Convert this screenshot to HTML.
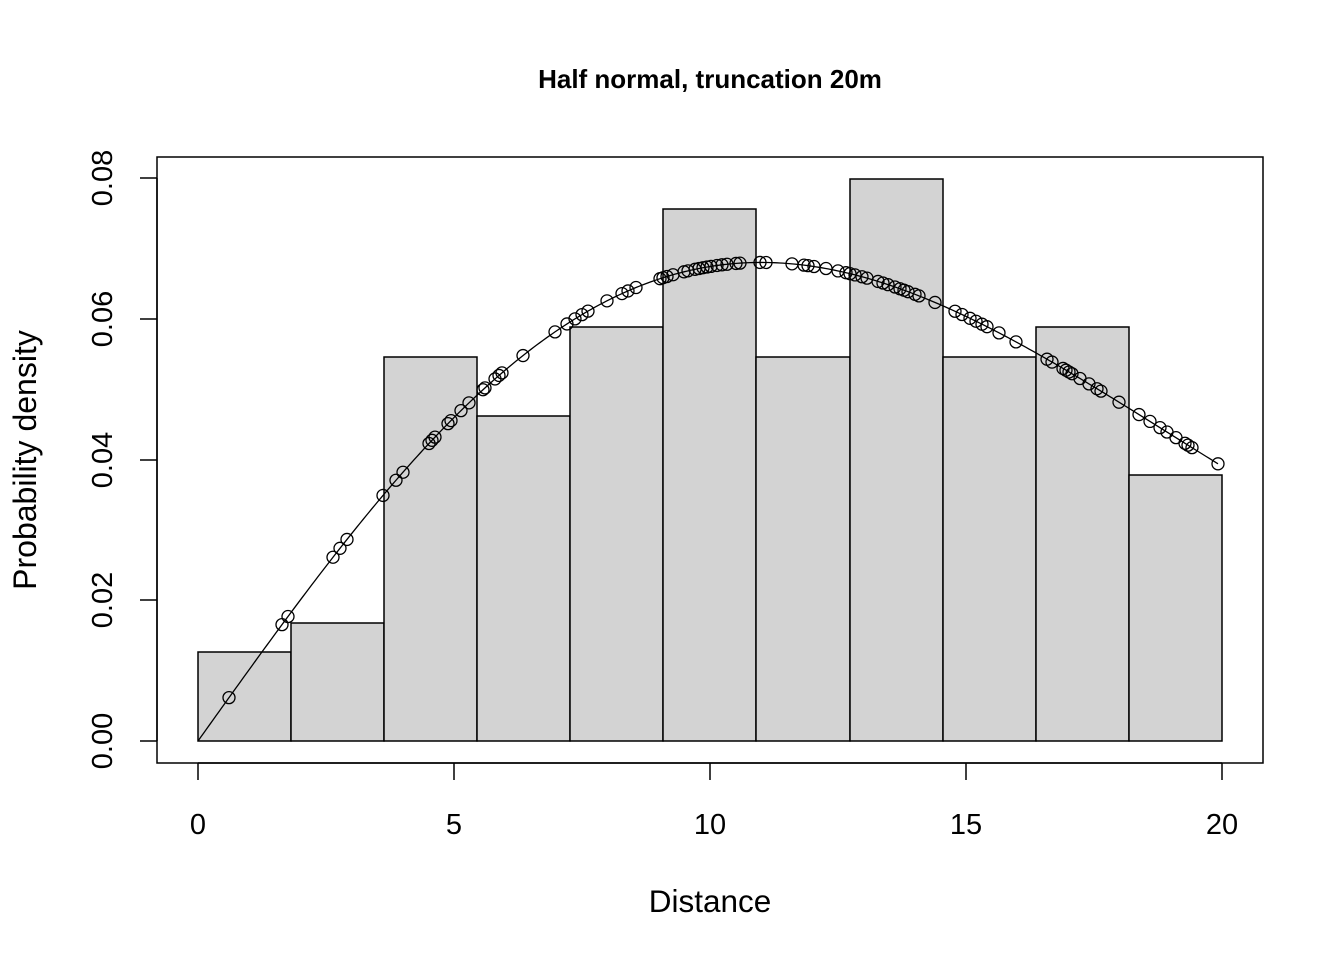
<!DOCTYPE html>
<html><head><meta charset="utf-8"><style>
html,body{margin:0;padding:0;background:#fff;}
svg{display:block;font-family:"Liberation Sans",Arial,sans-serif;}
</style></head><body>
<svg id="s" width="1344" height="960" viewBox="0 0 1344 960" xmlns="http://www.w3.org/2000/svg">
<rect width="1344" height="960" fill="#fff"/>
<text x="710" y="88" text-anchor="middle" font-size="26" font-weight="bold">Half normal, truncation 20m</text>
<rect x="157" y="157" width="1106" height="606" fill="none" stroke="#000" stroke-width="1.5"/>
<g id="bars" fill="#d3d3d3" stroke="#000" stroke-width="1.5"></g>
<g stroke="#000" stroke-width="1.5">
<line x1="198" y1="763" x2="1222" y2="763"/>
<line x1="198" y1="763" x2="198" y2="780"/>
<line x1="454" y1="763" x2="454" y2="780"/>
<line x1="710" y1="763" x2="710" y2="780"/>
<line x1="966" y1="763" x2="966" y2="780"/>
<line x1="1222" y1="763" x2="1222" y2="780"/>
<line x1="157" y1="178" x2="157" y2="741"/>
<line x1="140" y1="741" x2="157" y2="741"/>
<line x1="140" y1="600" x2="157" y2="600"/>
<line x1="140" y1="460" x2="157" y2="460"/>
<line x1="140" y1="319" x2="157" y2="319"/>
<line x1="140" y1="178" x2="157" y2="178"/>
</g>
<g font-size="29" text-anchor="middle">
<text x="198" y="834">0</text><text x="454" y="834">5</text><text x="710" y="834">10</text><text x="966" y="834">15</text><text x="1222" y="834">20</text>
<text transform="translate(112,741) rotate(-90)">0.00</text>
<text transform="translate(112,600) rotate(-90)">0.02</text>
<text transform="translate(112,460) rotate(-90)">0.04</text>
<text transform="translate(112,319) rotate(-90)">0.06</text>
<text transform="translate(112,178) rotate(-90)">0.08</text>
<text x="710" y="912" font-size="31.5">Distance</text>
<text transform="translate(36,460) rotate(-90)" font-size="32">Probability density</text>
</g>
<g id="curve"></g>
</svg>
<script>
var ns="http://www.w3.org/2000/svg",s=document.getElementById("s");
var b=[198,291,384,477,570,663,756,850,943,1036,1129,1222],t=[652,623,357,416,327,209,357,179,357,327,475];
var g=document.getElementById("bars");
for(var i=0;i<11;i++){var r=document.createElementNS(ns,"rect");r.setAttribute("x",b[i]);r.setAttribute("y",t[i]);r.setAttribute("width",b[i+1]-b[i]);r.setAttribute("height",741-t[i]);g.appendChild(r);}
function Y(px){var x=(px-198)/51.2;var f=0.010192*x*Math.exp(-x*x/242);return 741-f*7037.5;}
var d="";for(var p=198;p<=1219;p+=3){d+=(p==198?"M":"L")+p+","+Y(p).toFixed(2);}
var c=document.getElementById("curve");
var pa=document.createElementNS(ns,"path");pa.setAttribute("d",d);pa.setAttribute("fill","none");pa.setAttribute("stroke","#000");pa.setAttribute("stroke-width","1.3");c.appendChild(pa);
var xs=[229,282,288,333,340,347,383,396,403,429,432,435,448,451,461,469,483,485,495,499,502,523,555,567,575,582,588,607,622,628,636,660,663,667,673,684,688,695,699,703,707,711,717,722,727,736,740,760,766,792,804,808,814,826,838,846,850,855,862,867,878,883,888,895,900,904,908,915,919,935,955,962,970,976,982,987,999,1016,1047,1052,1063,1066,1069,1072,1080,1089,1097,1101,1119,1139,1150,1160,1167,1176,1185,1188,1192,1218];
xs.forEach(function(x){var e=document.createElementNS(ns,"circle");e.setAttribute("cx",x);e.setAttribute("cy",Y(x));e.setAttribute("r",6);e.setAttribute("fill","none");e.setAttribute("stroke","#000");e.setAttribute("stroke-width","1.3");c.appendChild(e);});
</script>
</body></html>
